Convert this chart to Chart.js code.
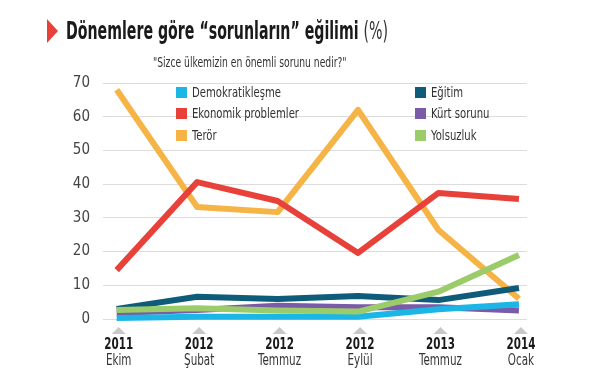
<!DOCTYPE html>
<html>
<head>
<meta charset="utf-8">
<script src="https://cdn.jsdelivr.net/npm/chart.js@4/dist/chart.umd.min.js"></script>
<style>
  body { margin: 0; background: #fff; }
  #wrap { position: relative; width: 590px; height: 392px; overflow: hidden;
          font-family: "DejaVu Sans Condensed", sans-serif; color: #222; }
  #chart { position: absolute; left: 0; top: 0; }
  .tri { position: absolute; left: 47px; top: 19px; width: 0; height: 0;
         border-top: 12px solid transparent; border-bottom: 12px solid transparent;
         border-left: 11px solid #e8413a; }
  #title { position: absolute; left: 66px; top: 16px; font-size: 25px; font-weight: bold;
           white-space: nowrap; color: #1a1a1a; transform: scaleX(0.63); transform-origin: 0 0; }
  #title span { font-weight: normal; color: #333; }
  #sub { position: absolute; left: 153px; top: 54px; font-size: 14px; color: #333;
         white-space: nowrap; transform: scaleX(0.73); transform-origin: 0 0; }
  .leg { position: absolute; font-size: 14px; color: #333; white-space: nowrap; }
  .leg i { display: inline-block; width: 11px; height: 11px; margin-right: 5px; vertical-align: -1px; }
  .leg span { display: inline-block; transform: scaleX(0.8); transform-origin: 0 50%; }
</style>
</head>
<body>
<div id="wrap">
  <canvas id="chart" width="590" height="392"></canvas>
  <div class="tri"></div>
  <div id="title">Dönemlere göre “sorunların” eğilimi <span>(%)</span></div>
  <div id="sub">"Sizce ülkemizin en önemli sorunu nedir?"</div>
  <div id="legend"></div>
</div>
<script>
// periods on the x axis
const years = ['2011', '2012', '2012', '2012', '2013', '2014'];
const months = ['Ekim', 'Şubat', 'Temmuz', 'Eylül', 'Temmuz', 'Ocak'];

// share of answers, %
const demokratiklesme = [0.3, 0.7, 0.7, 0.7, 2.9, 4.4];
const ekonomik = [14.5, 40.6, 35, 19.6, 37.4, 35.6];
const teror = [68, 33.2, 31.7, 62, 26.4, 6];
const egitim = [3, 6.6, 5.9, 6.8, 5.6, 9.2];
const kurt = [1.8, 2.7, 3.9, 3.5, 3.5, 2.5];
const yolsuzluk = [2.7, 3.2, 2.5, 2.2, 8.1, 19];

const yTicks = [0, 10, 20, 30, 40, 50, 60, 70];

const series = [
    { label: 'Demokratikleşme', data: demokratiklesme, color: '#1cb6e6', order: 3 },
    { label: 'Ekonomik problemler', data: ekonomik, color: '#e8413a', order: 1 },
    { label: 'Terör', data: teror, color: '#f5b445', order: 6 },
    { label: 'Eğitim', data: egitim, color: '#0f5c7a', order: 5 },
    { label: 'Kürt sorunu', data: kurt, color: '#7a5ba8', order: 4 },
    { label: 'Yolsuzluk', data: yolsuzluk, color: '#9ccb6a', order: 2 }
];

// html legend, two columns
const legendPos = [[176, 84], [176, 105], [176, 127], [415, 84], [415, 105], [415, 127]];
series.forEach(function (s, k) {
    const el = document.createElement('div');
    el.className = 'leg';
    el.style.left = legendPos[k][0] + 'px';
    el.style.top = legendPos[k][1] + 'px';
    el.innerHTML = '<i style="background:' + s.color + '"></i><span>' + s.label + '</span>';
    document.getElementById('legend').appendChild(el);
});

const FONT = '"DejaVu Sans Condensed", sans-serif';

// year + month under each point, with the small grey marker
const xLabels = {
    id: 'xLabels',
    afterDraw(chart) {
        const ctx = chart.ctx;
        const xs = chart.scales.x;
        ctx.save();
        years.forEach(function (y, i) {
            const x = xs.getPixelForValue(i) + 2;
            ctx.fillStyle = '#c8c8c8';
            ctx.beginPath();
            ctx.moveTo(x - 7, 334);
            ctx.lineTo(x + 7, 334);
            ctx.lineTo(x, 327);
            ctx.closePath();
            ctx.fill();

            ctx.save();
            ctx.translate(x, 0);
            ctx.scale(0.72, 1);
            ctx.textAlign = 'center';
            ctx.textBaseline = 'middle';
            ctx.fillStyle = '#1a1a1a';
            ctx.font = 'bold 16px ' + FONT;
            ctx.fillText(y, 0, 345);
            ctx.fillStyle = '#333';
            ctx.font = '16px ' + FONT;
            ctx.fillText(months[i], 0, 361);
            ctx.restore();
        });
        ctx.restore();
    }
};

new Chart(document.getElementById('chart').getContext('2d'), {
    type: 'line',
    data: {
        datasets: series.map(function (s) {
            return {
                label: s.label,
                data: s.data.map(function (v, i) { return { x: i, y: v }; }),
                borderColor: s.color,
                backgroundColor: s.color,
                borderWidth: 6,
                pointRadius: 0,
                tension: 0,
                borderJoinStyle: 'round',
                clip: false,
                order: s.order
            };
        })
    },
    options: {
        responsive: false,
        animation: false,
        layout: { padding: { top: 83, bottom: 73, left: 0, right: 63 } },
        plugins: { legend: { display: false }, tooltip: { enabled: false } },
        scales: {
            x: {
                type: 'linear',
                min: -0.17,
                max: 5.1,
                afterBuildTicks(scale) {
                    scale.ticks = years.map(function (y, i) { return { value: i }; });
                },
                afterFit(scale) { scale.height = 0; },
                ticks: { display: false },
                grid: { display: false },
                border: { display: false }
            },
            y: {
                min: 0,
                max: 70,
                afterBuildTicks(scale) {
                    scale.ticks = yTicks.map(function (v) { return { value: v }; });
                },
                afterFit(scale) { scale.width = 103; },
                ticks: { color: '#444', padding: 13, font: { family: FONT, size: 15 } },
                grid: { color: '#dcdcdc', lineWidth: 1, drawTicks: false },
                border: { display: false }
            }
        }
    },
    plugins: [xLabels]
});
</script>
</body>
</html>
